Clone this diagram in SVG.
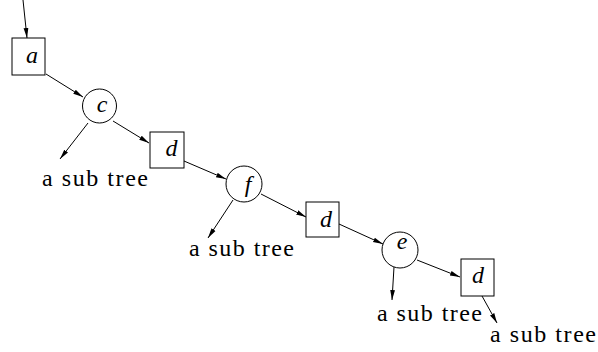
<svg xmlns="http://www.w3.org/2000/svg" width="598" height="352" viewBox="0 0 598 352">
<style>
.n{fill:#fff;stroke:#000;stroke-width:1}
.e{fill:none;stroke:#000;stroke-width:1;marker-end:url(#ah)}
</style>
<defs>
<marker id="ah" markerUnits="userSpaceOnUse" markerWidth="12" markerHeight="8" refX="10" refY="3" orient="auto">
<path d="M0,0.6 L10,3 L0,5.4 Z" fill="#000"/>
</marker>
</defs>
<rect width="598" height="352" fill="#fff"/>
<g id="edges">
<line class="e" x1="23" y1="0" x2="27" y2="38"/>
<line class="e" x1="46" y1="74" x2="83" y2="97"/>
<line class="e" x1="88" y1="123" x2="60" y2="159"/>
<line class="e" x1="113" y1="121" x2="149" y2="143"/>
<line class="e" x1="184" y1="161" x2="226" y2="179"/>
<line class="e" x1="233" y1="200" x2="208" y2="238"/>
<line class="e" x1="261" y1="194" x2="306" y2="217"/>
<line class="e" x1="339" y1="224" x2="383" y2="244"/>
<line class="e" x1="394" y1="267" x2="392" y2="300"/>
<line class="e" x1="417" y1="260" x2="460" y2="277"/>
<line class="e" x1="482" y1="296" x2="497" y2="323"/>
</g>
<g id="node-a"><rect class="n" x="12" y="38" width="33" height="37"/><text style="font-family:'Liberation Serif',serif;font-style:italic;font-size:24px;text-anchor:middle" x="32" y="63">a</text></g>
<g id="node-c"><circle class="n" cx="99.5" cy="106" r="17"/><text style="font-family:'Liberation Serif',serif;font-style:italic;font-size:24px;text-anchor:middle" x="102" y="112">c</text></g>
<g id="node-d1"><rect class="n" x="150" y="132" width="34" height="36"/><text style="font-family:'Liberation Serif',serif;font-style:italic;font-size:24px;text-anchor:middle" x="171.5" y="156">d</text></g>
<g id="node-f"><circle class="n" cx="244" cy="184" r="18"/><text style="font-family:'Liberation Serif',serif;font-style:italic;font-size:24px;text-anchor:middle" x="248" y="192">f</text></g>
<g id="node-d2"><rect class="n" x="306" y="202" width="33" height="35"/><text style="font-family:'Liberation Serif',serif;font-style:italic;font-size:24px;text-anchor:middle" x="326" y="227">d</text></g>
<g id="node-e"><circle class="n" cx="400" cy="250" r="18"/><text style="font-family:'Liberation Serif',serif;font-style:italic;font-size:24px;text-anchor:middle" x="402" y="249">e</text></g>
<g id="node-d3"><rect class="n" x="461" y="259" width="33" height="37"/><text style="font-family:'Liberation Serif',serif;font-style:italic;font-size:24px;text-anchor:middle" x="478" y="283">d</text></g>
<g id="sub1"><text style="font-family:'Liberation Serif',serif;font-size:24px" x="42" y="186" textLength="106" lengthAdjust="spacing">a sub tree</text></g>
<g id="sub2"><text style="font-family:'Liberation Serif',serif;font-size:24px" x="189" y="256" textLength="105" lengthAdjust="spacing">a sub tree</text></g>
<g id="sub3"><text style="font-family:'Liberation Serif',serif;font-size:24px" x="377" y="321" textLength="105" lengthAdjust="spacing">a sub tree</text></g>
<g id="sub4"><text style="font-family:'Liberation Serif',serif;font-size:24px" x="490" y="342" textLength="106" lengthAdjust="spacing">a sub tree</text></g>
</svg>
